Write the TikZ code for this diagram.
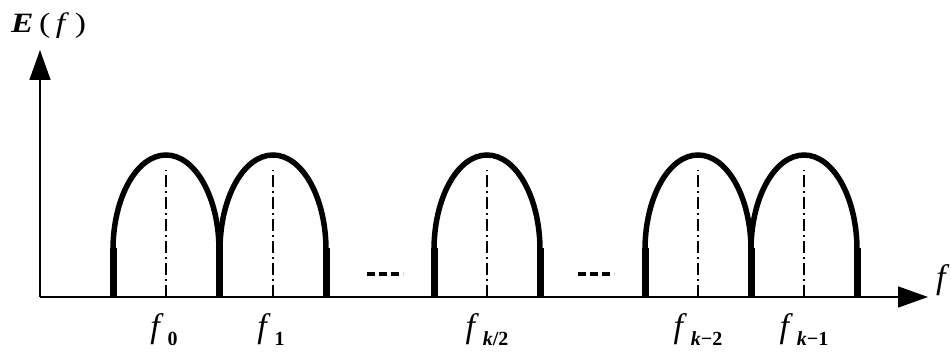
\documentclass[tikz,border=0pt]{standalone}
\usepackage{fontspec}
\setmainfont{Liberation Serif}
\usetikzlibrary{arrows.meta}
\newcommand{\flabel}[1]{\textit{f}\hspace{4pt}\raisebox{-8pt}{\fontsize{20}{20}\selectfont\bfseries #1}}
\begin{document}
\begin{tikzpicture}[x=1pt,y=1pt,
  axis/.style={line width=1.6pt,-{Triangle[length=30pt,width=21pt]}},
  hump/.style={line width=5.5pt},
  foot/.style={line width=7pt},
  centre/.style={line width=1.4pt,dash pattern=on 12pt off 4pt on 2pt off 4pt},
  gap/.style={line width=3.5pt,dash pattern=on 8pt off 4pt},
  flab/.style={anchor=base,inner sep=0pt,font=\fontsize{34}{34}\selectfont}]
\useasboundingbox (0,0) rectangle (951,351);
\coordinate (O) at (40,54);
\coordinate (ytop) at (40,301);
\coordinate (xend) at (928,54);
\draw[axis] (O) -- (ytop);
\draw[axis] (O) -- (xend);
\node[anchor=base west,inner sep=0pt,font=\fontsize{28}{28}\selectfont] (Ef) at (11,318) {\scalebox{1.2}[1]{\textbf{\textit{E}}\,(\,\textit{f}\,)}};
\node[anchor=base west,inner sep=0pt,font=\fontsize{34}{34}\selectfont] (fx) at (936,62) {\textit{f}};
% humps
\foreach \c in {166,273,487,698,804}{
  \draw[hump] (\c-53,101) arc[start angle=180,end angle=0,x radius=53,y radius=95];
  \draw[centre] (\c,54) -- (\c,181);
}
\foreach \x in {113,219.5,326,434,540,645,751,857}{
  \draw[foot] (\x,54) -- (\x,103);
}
\draw[gap] (367,77) -- (403,77);
\draw[gap] (578,77) -- (614,77);
% labels
\node[flab] (l0) at (164,13) {\flabel{0}};
\node[flab] (l1) at (271,13) {\flabel{1}};
\node[flab] (l2) at (487,13) {\flabel{\textit{k}/2}};
\node[flab] (l3) at (698,13) {\flabel{\textit{k}−2}};
\node[flab] (l4) at (804,13) {\flabel{\textit{k}−1}};
\end{tikzpicture}
\end{document}
